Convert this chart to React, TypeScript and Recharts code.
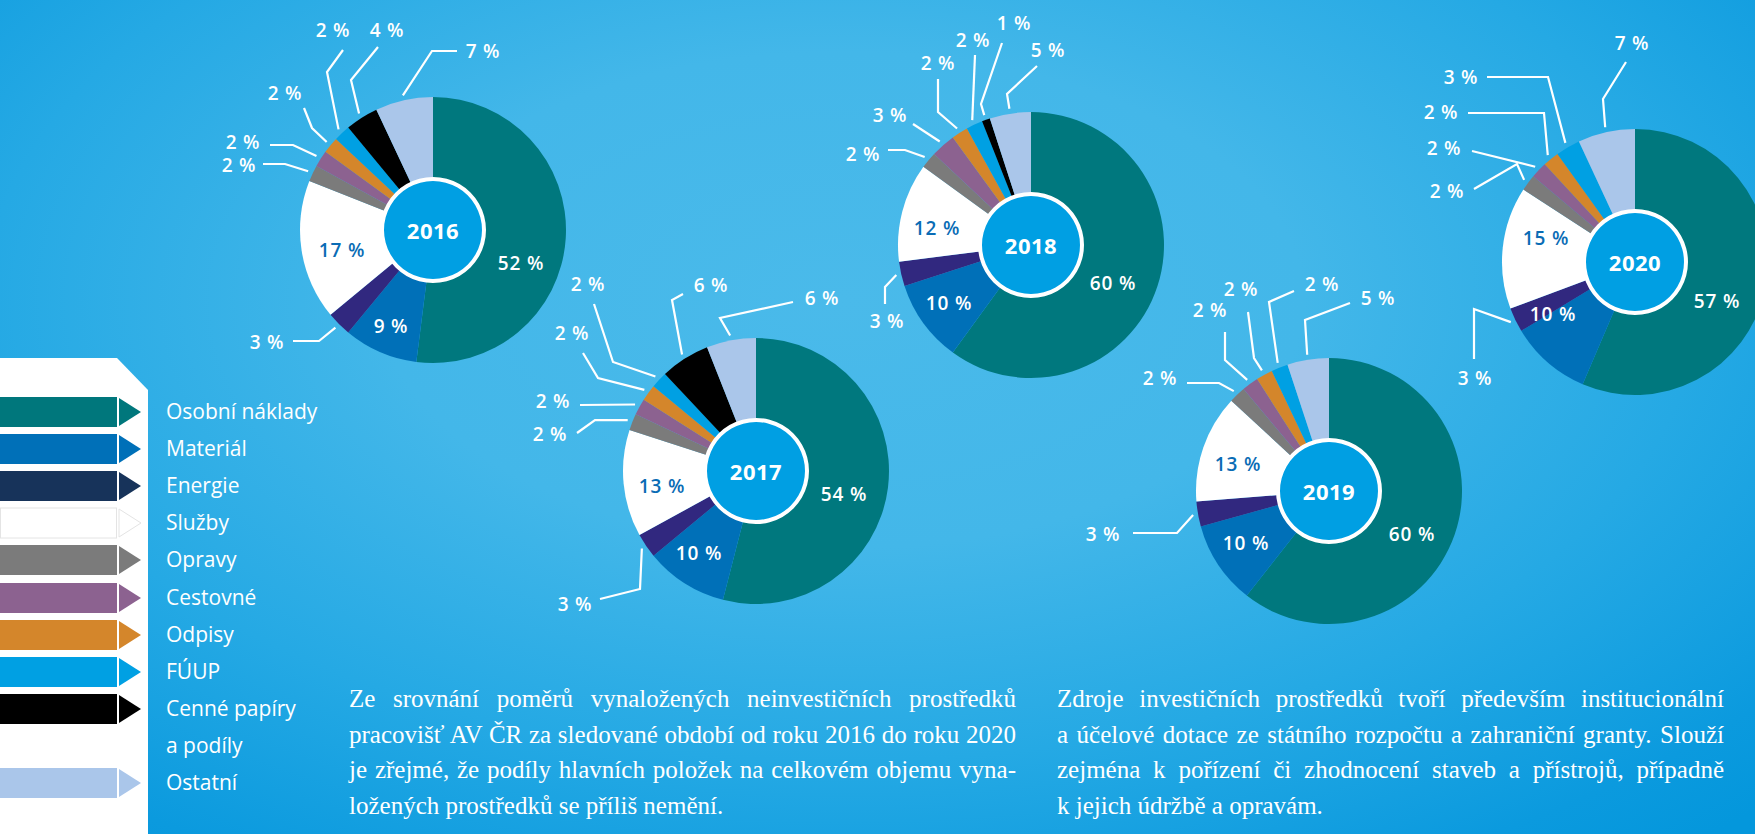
import React from 'react';
import { PieChart, Pie, Cell } from 'recharts';

// categories (order of slices, clockwise from 12 o'clock)
const categories = ['Osobní náklady', 'Materiál', 'Energie', 'Služby', 'Opravy', 'Cestovné', 'Odpisy', 'FÚUP', 'Cenné papíry a podíly', 'Ostatní'];
const years = ['2016', '2017', '2018', '2019', '2020'];

// shares in % per year
const shares2016 = [52, 9, 3, 17, 2, 2, 2, 2, 4, 7];
const shares2017 = [54, 10, 3, 13, 2, 2, 2, 2, 6, 6];
const shares2018 = [60, 10, 3, 12, 2, 3, 2, 2, 1, 5];
const shares2019 = [60, 10, 3, 13, 2, 2, 2, 2, 0, 5];
const shares2020 = [57, 10, 3, 15, 2, 2, 2, 3, 0, 7];
const allShares = [shares2016, shares2017, shares2018, shares2019, shares2020];

const sliceColors = ['#00787e', '#0070b8', '#31287f', '#ffffff', '#7b7b7b', '#8c6290', '#d4862b', '#00a0e3', '#000000', '#aac6ea'];
const legendColors = ['#00777c', '#0070b8', '#17335a', '#ffffff', '#7b7b7b', '#8c6290', '#d4862b', '#00a0e3', '#000000', '#aac6ea'];

type Pt = [number, number];
type Spec = { t: Pt; p?: Pt[] } | null;

// label placement relative to each pie centre (leader elbows + text centre)
const layout: { cx: number; cy: number; labels: Spec[] }[] = [
    {
        cx: 433, cy: 230, labels: [
            { t: [88, 33] }, { t: [-42, 96] },
            { t: [-166, 112], p: [[-114, 111], [-140, 111]] },
            { t: [-91, 20] },
            { t: [-194, -65], p: [[-148, -66], [-170, -66]] },
            { t: [-190, -88], p: [[-140, -85], [-163, -85]] },
            { t: [-148, -137], p: [[-121, -102], [-129, -122]] },
            { t: [-100, -200], p: [[-106, -158], [-90, -180]] },
            { t: [-46, -200], p: [[-82, -150], [-55, -183]] },
            { t: [50, -179], p: [[-1, -179], [24, -179]] },
        ]
    },
    {
        cx: 756, cy: 471, labels: [
            { t: [88, 23] }, { t: [-57, 82] },
            { t: [-181, 133], p: [[-116, 118], [-156, 128]] },
            { t: [-94, 15] },
            { t: [-206, -37], p: [[-161, -51], [-179, -38]] },
            { t: [-203, -70], p: [[-176, -66]] },
            { t: [-184, -138], p: [[-158, -93], [-173, -118]] },
            { t: [-168, -187], p: [[-143, -109], [-162, -167]] },
            { t: [-45, -186], p: [[-84, -171], [-73, -177]] },
            { t: [66, -173], p: [[-36, -153], [37, -169]] },
        ]
    },
    {
        cx: 1031, cy: 245, labels: [
            { t: [82, 38] }, { t: [-82, 58] },
            { t: [-144, 76], p: [[-146, 42], [-146, 59]] },
            { t: [-94, -17] },
            { t: [-168, -91], p: [[-126, -95], [-143, -95]] },
            { t: [-141, -130], p: [[-118, -121]] },
            { t: [-93, -182], p: [[-93, -133], [-93, -166]] },
            { t: [-58, -205], p: [[-56, -190]] },
            { t: [-17, -222], p: [[-50, -141], [-29, -202]] },
            { t: [17, -195], p: [[-24, -151], [6, -179]] },
        ]
    },
    {
        cx: 1329, cy: 491, labels: [
            { t: [83, 43] }, { t: [-83, 52] },
            { t: [-226, 43], p: [[-152, 42], [-196, 42]] },
            { t: [-91, -27] },
            { t: [-169, -113], p: [[-110, -108], [-142, -108]] },
            { t: [-119, -181], p: [[-104, -131], [-104, -159]] },
            { t: [-88, -202], p: [[-75, -133], [-81, -179]] },
            { t: [-7, -207], p: [[-60, -189], [-35, -200]] },
            null,
            { t: [49, -193], p: [[-24, -171], [21, -188]] },
        ]
    },
    {
        cx: 1635, cy: 262, labels: [
            { t: [82, 39] }, { t: [-82, 52] },
            { t: [-160, 116], p: [[-161, 47], [-161, 97]] },
            { t: [-89, -24] },
            { t: [-188, -71], p: [[-118, -98], [-161, -73]] },
            { t: [-191, -114], p: [[-163, -111]] },
            { t: [-194, -150], p: [[-91, -149], [-167, -149]] },
            { t: [-174, -185], p: [[-87, -185], [-148, -185]] },
            null,
            { t: [-3, -219], p: [[-32, -163], [-9, -200]] },
        ]
    },
];

const RAD = Math.PI / 180;
const R = 133;
const FONT = '"Open Sans", "Noto Sans", sans-serif';

const makeLabel = (yi: number) => (props: any) => {
    const { cx, cy, midAngle, outerRadius, index, value } = props;
    const spec = layout[yi].labels[index];
    if (!spec || !value) return null;
    let line = null;
    if (spec.p) {
        const a = -midAngle * RAD;
        const sx = cx + (outerRadius + 5) * Math.cos(a);
        const sy = cy + (outerRadius + 5) * Math.sin(a);
        const pts = [[sx, sy], ...spec.p.map(([dx, dy]) => [cx + dx, cy + dy])];
        line = <polyline points={pts.map(q => q.join(',')).join(' ')} fill="none" stroke="#fff" strokeWidth={2.2} />;
    }
    return (
        <g key={`l-${yi}-${index}`}>
            {line}
            <text x={cx + spec.t[0]} y={cy + spec.t[1]} textAnchor="middle" dominantBaseline="central"
                fill={index === 3 ? '#0a6cb5' : '#fff'} fontFamily={FONT} fontWeight={600} fontSize={19} letterSpacing={0.8}>
                {value} %
            </text>
        </g>
    );
};

const legendSlots = [0, 1, 2, 3, 4, 5, 6, 7, 8, 10];

const para1 = [
    'Ze srovnání poměrů vynaložených neinvestičních prostředků',
    'pracovišť AV ČR za sledované období od roku 2016 do roku 2020',
    'je zřejmé, že podíly hlavních položek na celkovém objemu vyna-',
    'ložených prostředků se příliš nemění.',
];
const para2 = [
    'Zdroje investičních prostředků tvoří především institucionální',
    'a účelové dotace ze státního rozpočtu a zahraniční granty. Slouží',
    'zejména k pořízení či zhodnocení staveb a přístrojů, případně',
    'k jejich údržbě a opravám.',
];

function Paragraph({ lines, left }: { lines: string[]; left: number }) {
    return (
        <div style={{ position: 'absolute', left, top: 681, width: 667, color: '#fff', fontFamily: '"Liberation Serif", serif', fontSize: 25, lineHeight: '35.5px' }}>
            {lines.map((l, i) => (
                <div key={i} style={{ textAlign: 'justify', textAlignLast: i === lines.length - 1 ? 'left' : 'justify', whiteSpace: 'nowrap' }}>{l}</div>
            ))}
        </div>
    );
}

export default function App() {
    return (
        <div style={{
            position: 'absolute', left: 0, top: 0, width: 1755, height: 834, overflow: 'hidden',
            background: 'radial-gradient(ellipse 75% 85% at 48% 36%, #4abaea 0%, #43b7e9 35%, #25a9e4 65%, #0b9ade 90%, #0497dc 100%)'
        }}>
            <svg width={160} height={834} style={{ position: 'absolute', left: 0, top: 0 }}>
                <polygon points="0,358 117,358 148,390 148,834 0,834" fill="#fff" />
            </svg>

            <div style={{ position: 'absolute', left: 0, top: 0 }}>
                <PieChart width={1755} height={834} margin={{ top: 0, right: 0, bottom: 0, left: 0 }}>
                    {allShares.map((shares, yi) => (
                        <Pie key={`p-${yi}`} data={categories.map((name, i) => ({ name, value: shares[i] }))} dataKey="value" nameKey="name"
                            cx={layout[yi].cx} cy={layout[yi].cy} innerRadius={0} outerRadius={R} startAngle={90} endAngle={-270}
                            stroke="none" isAnimationActive={false} labelLine={false} label={makeLabel(yi)}>
                            {categories.map((c, i) => <Cell key={c} fill={sliceColors[i]} stroke="none" />)}
                        </Pie>
                    ))}
                    {years.map((y, yi) => (
                        <Pie key={`r-${y}`} data={[{ name: y, value: 1 }]} dataKey="value" cx={layout[yi].cx} cy={layout[yi].cy}
                            innerRadius={48} outerRadius={53} startAngle={90} endAngle={-270} fill="#fff" stroke="none"
                            isAnimationActive={false} labelLine={false} />
                    ))}
                    {years.map((y, yi) => (
                        <Pie key={`c-${y}`} data={[{ name: y, value: 1 }]} dataKey="value" cx={layout[yi].cx} cy={layout[yi].cy}
                            innerRadius={0} outerRadius={49} startAngle={90} endAngle={-270} fill="#009fe3" stroke="none"
                            isAnimationActive={false} labelLine={false}
                            label={(p: any) => (
                                <text key={`y-${y}`} x={p.cx} y={p.cy} textAnchor="middle" dominantBaseline="central" fill="#fff"
                                    fontFamily={FONT} fontWeight={700} fontSize={22} letterSpacing={0.5}>{y}</text>
                            )} />
                    ))}
                </PieChart>
            </div>

            {categories.map((c, i) => {
                const yc = 412 + 37.1 * legendSlots[i];
                const isWhite = i === 3;
                return (
                    <div key={c}>
                        <svg width={145} height={32} style={{ position: 'absolute', left: 0, top: yc - 16 }}>
                            <rect x={isWhite ? 0.5 : 0} y={1} width={isWhite ? 116 : 117} height={30} fill={legendColors[i]} stroke={isWhite ? '#e4e4e4' : 'none'} />
                            <polygon points="119,2 141,16 119,30" fill={legendColors[i]} stroke={isWhite ? '#e4e4e4' : 'none'} />
                        </svg>
                        <div style={{ position: 'absolute', left: 166, top: yc - 19, color: '#fff', fontFamily: FONT, fontSize: 21, lineHeight: '37.1px', whiteSpace: 'nowrap' }}>
                            {i === 8 ? <>Cenné papíry<br />a podíly</> : c}
                        </div>
                    </div>
                );
            })}

            <Paragraph lines={para1} left={349} />
            <Paragraph lines={para2} left={1057} />
        </div>
    );
}
